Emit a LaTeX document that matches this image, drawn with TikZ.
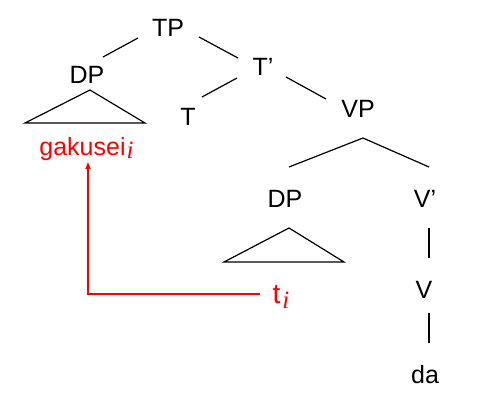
\documentclass[tikz,border=0pt]{standalone}
\usepackage{fontspec}
\setmainfont{Liberation Sans}
\newfontfamily\serifit{Liberation Serif}[UprightFont=* Italic]
\newcommand{\mysub}[2][-4pt]{\raisebox{#1}{\fontsize{25}{25}\selectfont\serifit #2}}
\usetikzlibrary{arrows.meta}
\begin{document}
\begin{tikzpicture}[x=1pt,y=-1pt,
  lab/.style={anchor=base,inner sep=0pt,font=\fontsize{25}{30}\selectfont},
  red lab/.style={lab,text=red},
  branch/.style={line width=1.2pt,black},
  mv/.style={line width=1.3pt,red,-{Triangle[length=7pt,width=5pt]}}]
\useasboundingbox (0,0) rectangle (486,412);
\node[lab] (TP) at (168,37) {TP};
\node[lab] (DP) at (87,83) {DP};
\node[lab] (Tb) at (263,75) {T’};
\node[lab] (T) at (188,125) {T};
\node[lab] (VP) at (358,117) {VP};
\node[lab] (DPb) at (285,207) {DP};
\node[lab] (Vb) at (425,207) {V’};
\node[lab] (V) at (424,298) {V};
\node[lab] (da) at (425,383) {da};
\node[red lab] (gak) at (86.5,155) {gakusei\kern1pt\mysub[-3pt]{i}};
\node[red lab] (t) at (281,303) {{\fontsize{28}{30}\selectfont t}\kern2pt\mysub[-5pt]{i}};
% branches
\draw[branch] ([shift={(-30,1)}]TP.base) -- ([shift={(16,-26)}]DP.base);
\draw[branch] ([shift={(31,0)}]TP.base) -- ([shift={(-25,-17)}]Tb.base);
\draw[branch] ([shift={(-26,3)}]Tb.base) -- ([shift={(14,-28)}]T.base);
\draw[branch] ([shift={(23,2)}]Tb.base) -- ([shift={(-32,-18)}]VP.base);
\draw[branch] ([shift={(4,-40)}]DPb.base) -- ([shift={(5,21)}]VP.base) -- ([shift={(4,-40)}]Vb.base);
\draw[branch] ([shift={(4,21)}]Vb.base) -- ([shift={(5,-40)}]V.base);
\draw[branch] ([shift={(5,15)}]V.base) -- ([shift={(4,-40)}]da.base);
% triangles
\draw[branch] ([shift={(3,7)}]DP.base) -- ([shift={(-62,40)}]DP.base) -- ([shift={(58,40)}]DP.base) -- cycle;
\draw[branch] ([shift={(4,21)}]DPb.base) -- ([shift={(-61,55)}]DPb.base) -- ([shift={(59,55)}]DPb.base) -- cycle;
% movement
\draw[mv] ([shift={(-21,-9)}]t.base) -| ([shift={(1.5,7)}]gak.base);
\end{tikzpicture}
\end{document}
